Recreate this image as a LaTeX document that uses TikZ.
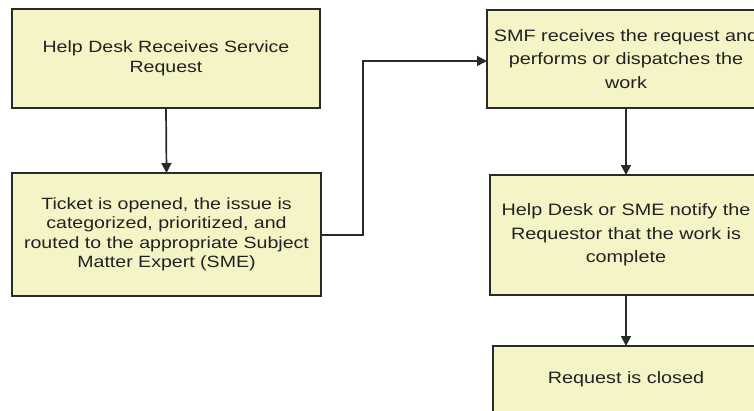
\documentclass[tikz,border=0pt]{standalone}
\usepackage{fontspec}
\setmainfont[FakeStretch=1.2]{Liberation Sans}
\usetikzlibrary{arrows.meta}
\definecolor{boxfill}{HTML}{F4F4C6}
\definecolor{boxline}{HTML}{2A2A2A}
\definecolor{txt}{HTML}{222222}
\tikzset{
  flowbox/.style={draw=boxline, line width=1.6pt, fill=boxfill, align=center,
    inner sep=0pt, outer sep=0pt, text=txt},
  leftfont/.style={font=\fontsize{16.3}{19.5}\selectfont},
  rightfont/.style={font=\fontsize{16.5}{23.5}\selectfont},
  flowarrow/.style={draw=boxline, line width=1.7pt, -{Triangle[length=10pt,width=10pt]}},
}
\begin{document}
\begin{tikzpicture}[x=1pt,y=-1pt]
\clip (0,0) rectangle (754,410);
\fill[white] (0,0) rectangle (754,410);
\node[flowbox, leftfont, minimum width=308pt, minimum height=99pt] (b1) at (166,58.5)
  {Help Desk Receives Service\\Request};
\node[flowbox, leftfont, minimum width=309pt, minimum height=123pt] (b2) at (166.5,234.5)
  {Ticket is opened, the issue is\\categorized, prioritized, and\\routed to the appropriate Subject\\Matter Expert (SME)};
\node[flowbox, rightfont, minimum width=278pt, minimum height=98pt] (b3) at (626,59)
  {SMF receives the request and\\performs or dispatches the\\work};
\node[flowbox, rightfont, minimum width=272pt, minimum height=120pt] (b4) at (626,235)
  {Help Desk or SME notify the\\Requestor that the work is\\complete};
\node[flowbox, rightfont, minimum width=266pt, minimum height=66pt] (b5) at (626,379)
  {Request is closed};
\coordinate (turn1) at (363,235);
\coordinate (turn2) at (363,61);
\coordinate (b3in) at (b3.west |- turn2);
\draw[flowarrow] (b1.south) -- (b2.north);
\draw[flowarrow, line width=1.3pt] (b2.east |- turn1) -- (turn1) -- (turn2) -- (b3in);
\draw[flowarrow] (b3.south) -- (b4.north);
\draw[flowarrow] (b4.south) -- (b5.north);
\end{tikzpicture}
\end{document}
